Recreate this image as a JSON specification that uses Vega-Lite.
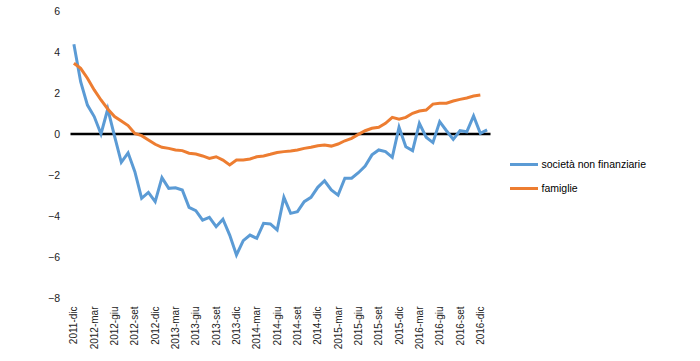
{
  "$schema": "https://vega.github.io/schema/vega-lite/v6.json",
  "width": 420,
  "height": 287,
  "autosize": {"type": "none"},
  "padding": {"left": 70.5, "top": 11, "right": 209.5, "bottom": 63},
  "background": "white",
  "config": {"view": {"stroke": null}, "font": "Liberation Sans"},
  "data": {"values": [
    {"mese": "2011-dic", "serie": "società non finanziarie", "valore": 4.38},
    {"mese": "2012-gen", "serie": "società non finanziarie", "valore": 2.55},
    {"mese": "2012-feb", "serie": "società non finanziarie", "valore": 1.41},
    {"mese": "2012-mar", "serie": "società non finanziarie", "valore": 0.85},
    {"mese": "2012-apr", "serie": "società non finanziarie", "valore": 0.0},
    {"mese": "2012-mag", "serie": "società non finanziarie", "valore": 1.22},
    {"mese": "2012-giu", "serie": "società non finanziarie", "valore": -0.1},
    {"mese": "2012-lug", "serie": "società non finanziarie", "valore": -1.38},
    {"mese": "2012-ago", "serie": "società non finanziarie", "valore": -0.92},
    {"mese": "2012-set", "serie": "società non finanziarie", "valore": -1.84},
    {"mese": "2012-ott", "serie": "società non finanziarie", "valore": -3.14},
    {"mese": "2012-nov", "serie": "società non finanziarie", "valore": -2.85},
    {"mese": "2012-dic", "serie": "società non finanziarie", "valore": -3.3},
    {"mese": "2013-gen", "serie": "società non finanziarie", "valore": -2.13},
    {"mese": "2013-feb", "serie": "società non finanziarie", "valore": -2.65},
    {"mese": "2013-mar", "serie": "società non finanziarie", "valore": -2.62},
    {"mese": "2013-apr", "serie": "società non finanziarie", "valore": -2.73},
    {"mese": "2013-mag", "serie": "società non finanziarie", "valore": -3.58},
    {"mese": "2013-giu", "serie": "società non finanziarie", "valore": -3.74},
    {"mese": "2013-lug", "serie": "società non finanziarie", "valore": -4.2},
    {"mese": "2013-ago", "serie": "società non finanziarie", "valore": -4.07},
    {"mese": "2013-set", "serie": "società non finanziarie", "valore": -4.52},
    {"mese": "2013-ott", "serie": "società non finanziarie", "valore": -4.16},
    {"mese": "2013-nov", "serie": "società non finanziarie", "valore": -4.93},
    {"mese": "2013-dic", "serie": "società non finanziarie", "valore": -5.9},
    {"mese": "2014-gen", "serie": "società non finanziarie", "valore": -5.2},
    {"mese": "2014-feb", "serie": "società non finanziarie", "valore": -4.93},
    {"mese": "2014-mar", "serie": "società non finanziarie", "valore": -5.09},
    {"mese": "2014-apr", "serie": "società non finanziarie", "valore": -4.36},
    {"mese": "2014-mag", "serie": "società non finanziarie", "valore": -4.39},
    {"mese": "2014-giu", "serie": "società non finanziarie", "valore": -4.68},
    {"mese": "2014-lug", "serie": "società non finanziarie", "valore": -3.09},
    {"mese": "2014-ago", "serie": "società non finanziarie", "valore": -3.87},
    {"mese": "2014-set", "serie": "società non finanziarie", "valore": -3.79},
    {"mese": "2014-ott", "serie": "società non finanziarie", "valore": -3.3},
    {"mese": "2014-nov", "serie": "società non finanziarie", "valore": -3.09},
    {"mese": "2014-dic", "serie": "società non finanziarie", "valore": -2.6},
    {"mese": "2015-gen", "serie": "società non finanziarie", "valore": -2.28},
    {"mese": "2015-feb", "serie": "società non finanziarie", "valore": -2.73},
    {"mese": "2015-mar", "serie": "società non finanziarie", "valore": -2.98},
    {"mese": "2015-apr", "serie": "società non finanziarie", "valore": -2.16},
    {"mese": "2015-mag", "serie": "società non finanziarie", "valore": -2.16},
    {"mese": "2015-giu", "serie": "società non finanziarie", "valore": -1.89},
    {"mese": "2015-lug", "serie": "società non finanziarie", "valore": -1.56},
    {"mese": "2015-ago", "serie": "società non finanziarie", "valore": -1.02},
    {"mese": "2015-set", "serie": "società non finanziarie", "valore": -0.78},
    {"mese": "2015-ott", "serie": "società non finanziarie", "valore": -0.86},
    {"mese": "2015-nov", "serie": "società non finanziarie", "valore": -1.14},
    {"mese": "2015-dic", "serie": "società non finanziarie", "valore": 0.33},
    {"mese": "2016-gen", "serie": "società non finanziarie", "valore": -0.62},
    {"mese": "2016-feb", "serie": "società non finanziarie", "valore": -0.81},
    {"mese": "2016-mar", "serie": "società non finanziarie", "valore": 0.52},
    {"mese": "2016-apr", "serie": "società non finanziarie", "valore": -0.16},
    {"mese": "2016-mag", "serie": "società non finanziarie", "valore": -0.42},
    {"mese": "2016-giu", "serie": "società non finanziarie", "valore": 0.6},
    {"mese": "2016-lug", "serie": "società non finanziarie", "valore": 0.16},
    {"mese": "2016-ago", "serie": "società non finanziarie", "valore": -0.26},
    {"mese": "2016-set", "serie": "società non finanziarie", "valore": 0.16},
    {"mese": "2016-ott", "serie": "società non finanziarie", "valore": 0.11},
    {"mese": "2016-nov", "serie": "società non finanziarie", "valore": 0.88},
    {"mese": "2016-dic", "serie": "società non finanziarie", "valore": 0.03},
    {"mese": "2017-gen", "serie": "società non finanziarie", "valore": 0.2},
    {"mese": "2011-dic", "serie": "famiglie", "valore": 3.45},
    {"mese": "2012-gen", "serie": "famiglie", "valore": 3.2},
    {"mese": "2012-feb", "serie": "famiglie", "valore": 2.72},
    {"mese": "2012-mar", "serie": "famiglie", "valore": 2.15},
    {"mese": "2012-apr", "serie": "famiglie", "valore": 1.66},
    {"mese": "2012-mag", "serie": "famiglie", "valore": 1.22},
    {"mese": "2012-giu", "serie": "famiglie", "valore": 0.85},
    {"mese": "2012-lug", "serie": "famiglie", "valore": 0.63},
    {"mese": "2012-ago", "serie": "famiglie", "valore": 0.41},
    {"mese": "2012-set", "serie": "famiglie", "valore": 0.03},
    {"mese": "2012-ott", "serie": "famiglie", "valore": -0.08},
    {"mese": "2012-nov", "serie": "famiglie", "valore": -0.29},
    {"mese": "2012-dic", "serie": "famiglie", "valore": -0.5},
    {"mese": "2013-gen", "serie": "famiglie", "valore": -0.65},
    {"mese": "2013-feb", "serie": "famiglie", "valore": -0.7},
    {"mese": "2013-mar", "serie": "famiglie", "valore": -0.78},
    {"mese": "2013-apr", "serie": "famiglie", "valore": -0.81},
    {"mese": "2013-mag", "serie": "famiglie", "valore": -0.94},
    {"mese": "2013-giu", "serie": "famiglie", "valore": -0.98},
    {"mese": "2013-lug", "serie": "famiglie", "valore": -1.07},
    {"mese": "2013-ago", "serie": "famiglie", "valore": -1.19},
    {"mese": "2013-set", "serie": "famiglie", "valore": -1.11},
    {"mese": "2013-ott", "serie": "famiglie", "valore": -1.27},
    {"mese": "2013-nov", "serie": "famiglie", "valore": -1.51},
    {"mese": "2013-dic", "serie": "famiglie", "valore": -1.27},
    {"mese": "2014-gen", "serie": "famiglie", "valore": -1.27},
    {"mese": "2014-feb", "serie": "famiglie", "valore": -1.22},
    {"mese": "2014-mar", "serie": "famiglie", "valore": -1.11},
    {"mese": "2014-apr", "serie": "famiglie", "valore": -1.07},
    {"mese": "2014-mag", "serie": "famiglie", "valore": -0.99},
    {"mese": "2014-giu", "serie": "famiglie", "valore": -0.9},
    {"mese": "2014-lug", "serie": "famiglie", "valore": -0.86},
    {"mese": "2014-ago", "serie": "famiglie", "valore": -0.83},
    {"mese": "2014-set", "serie": "famiglie", "valore": -0.78},
    {"mese": "2014-ott", "serie": "famiglie", "valore": -0.7},
    {"mese": "2014-nov", "serie": "famiglie", "valore": -0.65},
    {"mese": "2014-dic", "serie": "famiglie", "valore": -0.57},
    {"mese": "2015-gen", "serie": "famiglie", "valore": -0.54},
    {"mese": "2015-feb", "serie": "famiglie", "valore": -0.59},
    {"mese": "2015-mar", "serie": "famiglie", "valore": -0.49},
    {"mese": "2015-apr", "serie": "famiglie", "valore": -0.33},
    {"mese": "2015-mag", "serie": "famiglie", "valore": -0.21},
    {"mese": "2015-giu", "serie": "famiglie", "valore": -0.02},
    {"mese": "2015-lug", "serie": "famiglie", "valore": 0.16},
    {"mese": "2015-ago", "serie": "famiglie", "valore": 0.28},
    {"mese": "2015-set", "serie": "famiglie", "valore": 0.33},
    {"mese": "2015-ott", "serie": "famiglie", "valore": 0.52},
    {"mese": "2015-nov", "serie": "famiglie", "valore": 0.81},
    {"mese": "2015-dic", "serie": "famiglie", "valore": 0.72},
    {"mese": "2016-gen", "serie": "famiglie", "valore": 0.81},
    {"mese": "2016-feb", "serie": "famiglie", "valore": 1.01},
    {"mese": "2016-mar", "serie": "famiglie", "valore": 1.12},
    {"mese": "2016-apr", "serie": "famiglie", "valore": 1.17},
    {"mese": "2016-mag", "serie": "famiglie", "valore": 1.46},
    {"mese": "2016-giu", "serie": "famiglie", "valore": 1.5},
    {"mese": "2016-lug", "serie": "famiglie", "valore": 1.5},
    {"mese": "2016-ago", "serie": "famiglie", "valore": 1.61},
    {"mese": "2016-set", "serie": "famiglie", "valore": 1.69},
    {"mese": "2016-ott", "serie": "famiglie", "valore": 1.76},
    {"mese": "2016-nov", "serie": "famiglie", "valore": 1.85},
    {"mese": "2016-dic", "serie": "famiglie", "valore": 1.9}
  ]},
  "layer": [
    {
      "data": {"values": [{}]},
      "mark": {"type": "rule", "color": "black", "strokeWidth": 2.5},
      "encoding": {"y": {"datum": 0, "type": "quantitative"}}
    },
    {
      "mark": {"type": "line", "strokeWidth": 3},
      "encoding": {
        "x": {
          "field": "mese", "type": "ordinal", "sort": null,
          "scale": {"type": "point", "padding": 0.5},
          "axis": {
            "values": ["2011-dic","2012-mar","2012-giu","2012-set","2012-dic","2013-mar","2013-giu","2013-set","2013-dic","2014-mar","2014-giu","2014-set","2014-dic","2015-mar","2015-giu","2015-set","2015-dic","2016-mar","2016-giu","2016-set","2016-dic"],
            "title": null, "labelAngle": -90, "domain": false, "ticks": false, "grid": false,
            "labelFontSize": 10, "labelPadding": 8, "labelColor": "#222"
          }
        },
        "y": {
          "field": "valore", "type": "quantitative",
          "scale": {"domain": [-8, 6], "nice": false, "zero": false},
          "axis": {
            "values": [-8, -6, -4, -2, 0, 2, 4, 6],
            "title": null, "domain": false, "ticks": false,
            "labelPadding": 11, "labelFontSize": 10.5, "labelColor": "#222",
            "gridColor": "#d9d9d9", "gridWidth": 1.5
          }
        },
        "color": {
          "field": "serie", "type": "nominal",
          "scale": {"domain": ["società non finanziarie", "famiglie"], "range": ["#5B9BD5", "#ED7D31"]},
          "legend": {
            "title": null, "orient": "none", "legendX": 438, "legendY": 138,
            "symbolType": "stroke", "symbolSize": 784, "symbolStrokeWidth": 3,
            "labelFontSize": 10.5, "labelColor": "#000", "rowPadding": 2, "labelOffset": 2
          }
        }
      }
    }
  ]
}
